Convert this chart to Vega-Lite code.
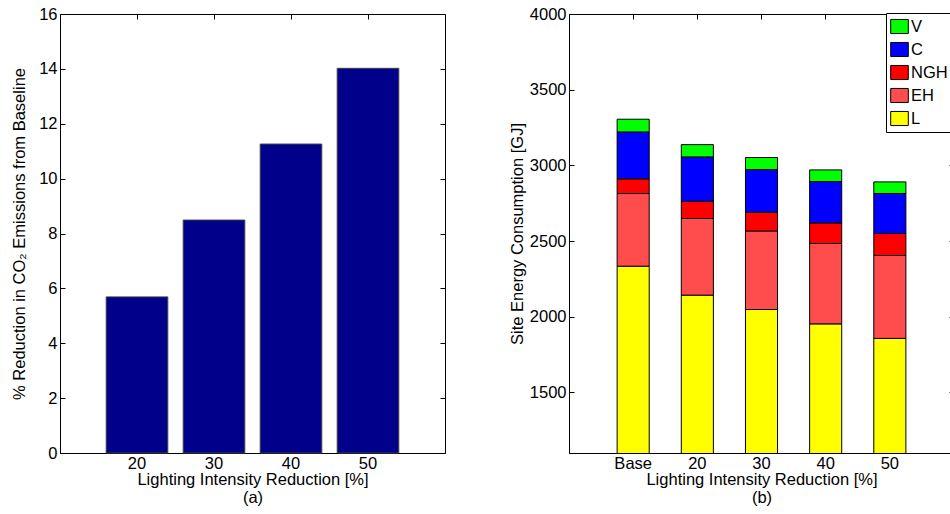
{
  "$schema": "https://vega.github.io/schema/vega-lite/v6.json",
  "padding": {"left": 11, "top": 5, "right": 0, "bottom": 0},
  "background": "white",
  "config": {
    "font": "Liberation Sans",
    "view": {"stroke": "black", "strokeWidth": 1},
    "axis": {
      "labelFont": "Liberation Sans", "titleFont": "Liberation Sans",
      "labelFontSize": 16.5, "titleFontSize": 16.5, "titleFontWeight": "normal",
      "labelColor": "black", "titleColor": "black",
      "domainColor": "black", "tickColor": "black", "grid": false,
      "tickSize": -5, "labelAngle": 0
    },
    "legend": {"labelFont": "Liberation Sans", "labelFontSize": 16.5, "labelColor": "black"}
  },
  "datasets": {
    "co2": [
      {"reduction": "20", "pct": 5.69},
      {"reduction": "30", "pct": 8.49},
      {"reduction": "40", "pct": 11.26},
      {"reduction": "50", "pct": 14.02}
    ],
    "energy": [
      {"case": "Base", "use": "L", "gj": 2334, "order": 1},
      {"case": "Base", "use": "EH", "gj": 480, "order": 2},
      {"case": "Base", "use": "NGH", "gj": 97, "order": 3},
      {"case": "Base", "use": "C", "gj": 310, "order": 4},
      {"case": "Base", "use": "V", "gj": 84, "order": 5},
      {"case": "20", "use": "L", "gj": 2143, "order": 1},
      {"case": "20", "use": "EH", "gj": 506, "order": 2},
      {"case": "20", "use": "NGH", "gj": 114, "order": 3},
      {"case": "20", "use": "C", "gj": 293, "order": 4},
      {"case": "20", "use": "V", "gj": 81, "order": 5},
      {"case": "30", "use": "L", "gj": 2048, "order": 1},
      {"case": "30", "use": "EH", "gj": 519, "order": 2},
      {"case": "30", "use": "NGH", "gj": 124, "order": 3},
      {"case": "30", "use": "C", "gj": 281, "order": 4},
      {"case": "30", "use": "V", "gj": 80, "order": 5},
      {"case": "40", "use": "L", "gj": 1953, "order": 1},
      {"case": "40", "use": "EH", "gj": 531, "order": 2},
      {"case": "40", "use": "NGH", "gj": 136, "order": 3},
      {"case": "40", "use": "C", "gj": 273, "order": 4},
      {"case": "40", "use": "V", "gj": 77, "order": 5},
      {"case": "50", "use": "L", "gj": 1857, "order": 1},
      {"case": "50", "use": "EH", "gj": 548, "order": 2},
      {"case": "50", "use": "NGH", "gj": 145, "order": 3},
      {"case": "50", "use": "C", "gj": 264, "order": 4},
      {"case": "50", "use": "V", "gj": 77, "order": 5}
    ]
  },
  "hconcat": [
    {
      "width": 385,
      "height": 439,
      "data": {"name": "co2"},
      "layer": [
        {
          "mark": {"type": "bar", "color": "#00008B", "stroke": "#404040", "strokeWidth": 1},
          "encoding": {
            "x": {"field": "reduction", "type": "ordinal", "sort": null,
                  "scale": {"paddingInner": 0.2, "paddingOuter": 0.6},
                  "axis": {"title": ["Lighting Intensity Reduction [%]", "(a)"], "titleLineHeight": 18,
                           "labelPadding": 7, "titlePadding": 0}},
            "y": {"field": "pct", "type": "quantitative",
                  "scale": {"domain": [0, 16], "nice": false},
                  "axis": {"values": [0, 2, 4, 6, 8, 10, 12, 14, 16], "title": "% Reduction in CO₂ Emissions from Baseline",
                           "labelPadding": 8, "titlePadding": 11}}
          }
        },
        {
          "mark": {"type": "bar", "opacity": 0},
          "encoding": {
            "x": {"field": "reduction", "type": "ordinal", "sort": null,
                  "axis": {"orient": "top", "labels": false, "title": null, "domain": false}},
            "y": {"field": "pct", "type": "quantitative",
                  "axis": {"orient": "right", "labels": false, "title": null, "domain": false, "values": [0, 2, 4, 6, 8, 10, 12, 14, 16]}}
          }
        }
      ],
      "resolve": {"axis": {"x": "independent", "y": "independent"}}
    },
    {
      "width": 385,
      "height": 439,
      "data": {"name": "energy"},
      "layer": [
        {
          "mark": {"type": "bar", "stroke": "black", "strokeWidth": 1, "clip": true},
          "encoding": {
            "x": {"field": "case", "type": "ordinal", "sort": null,
                  "scale": {"paddingInner": 0.5, "paddingOuter": 0.75},
                  "axis": {"title": ["Lighting Intensity Reduction [%]", "(b)"], "titleLineHeight": 18,
                           "labelPadding": 7, "titlePadding": 0}},
            "y": {"field": "gj", "type": "quantitative", "stack": "zero",
                  "scale": {"domain": [1100, 4000], "nice": false, "zero": false},
                  "axis": {"values": [1500, 2000, 2500, 3000, 3500, 4000], "format": "d", "title": "Site Energy Consumption [GJ]",
                           "labelPadding": 8, "titlePadding": 4}},
            "color": {"field": "use", "type": "nominal",
                      "scale": {"domain": ["V", "C", "NGH", "EH", "L"], "range": ["#00FF00", "#0000FF", "#FF0000", "#FF4D4D", "#FFFF00"]},
                      "legend": {"orient": "none", "legendX": 826, "legendY": -1, "title": null,
                                 "symbolType": "M-1,-0.8H1V0.8H-1Z", "symbolSize": 310,
                                 "symbolStrokeColor": "black", "symbolStrokeWidth": 1, "symbolOpacity": 1,
                                 "strokeColor": "black", "fillColor": "white", "padding": 4,
                                 "rowPadding": 4, "labelOffset": 2}},
            "order": {"field": "order", "type": "quantitative"}
          }
        },
        {
          "mark": {"type": "bar", "opacity": 0, "clip": true},
          "encoding": {
            "x": {"field": "case", "type": "ordinal", "sort": null,
                  "axis": {"orient": "top", "labels": false, "title": null, "domain": false}},
            "y": {"field": "gj", "type": "quantitative", "stack": null,
                  "axis": {"orient": "right", "labels": false, "title": null, "domain": false, "values": [1500, 2000, 2500, 3000, 3500, 4000]}}
          }
        }
      ],
      "resolve": {"axis": {"x": "independent", "y": "independent"}}
    }
  ],
  "spacing": 62
}
